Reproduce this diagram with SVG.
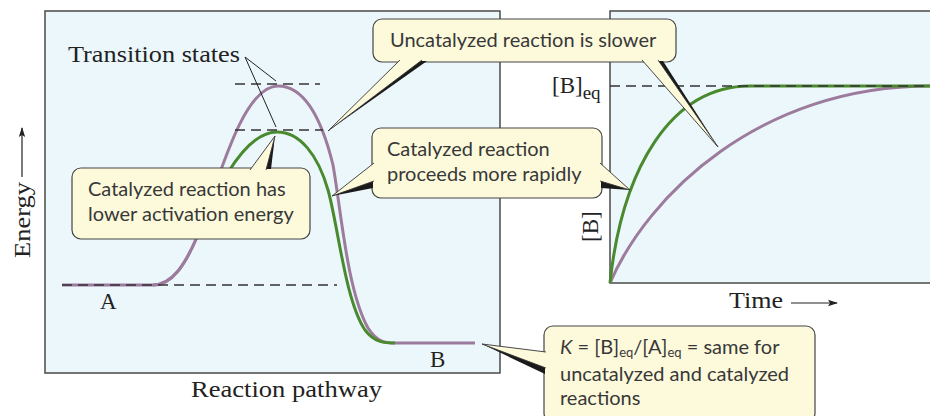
<svg xmlns="http://www.w3.org/2000/svg" width="930" height="416" viewBox="0 0 930 416">
<defs>
<style>
.panel{fill:#ecf7fc;stroke:#4a4a4a;stroke-width:1.5}
.dash{fill:none;stroke:#333;stroke-width:1.3;stroke-dasharray:10,6}
.pur{fill:none;stroke:#9c7b9c;stroke-width:3}
.grn{fill:none;stroke:#4a8a2e;stroke-width:3}
.serif{font-family:"Liberation Serif","Times New Roman",serif;font-size:23px;fill:#222}
.box{fill:#fdfadc;stroke:#444;stroke-width:1.2}
.txt{font-family:Lato,"Open Sans",sans-serif;font-size:20px;fill:#383838}
.ptr{fill:#fdfadc;stroke:#333;stroke-width:0.9;stroke-linejoin:round}
.shd{fill:#1a1a1a}
.lead{fill:none;stroke:#222;stroke-width:1}
.axis{fill:none;stroke:#222;stroke-width:1.2}
</style>
<marker id="ah" markerWidth="10" markerHeight="8" refX="9" refY="4" orient="auto" markerUnits="userSpaceOnUse">
<path d="M0,0.8 L10,4 L0,7.2 L2,4 Z" fill="#222"/>
</marker>
</defs>

<g id="energy-panel">
<rect class="panel" x="45" y="11" width="455" height="362"/>
<path class="pur" d="M62,285 H153 C172,285 185,265 197,237 C215,195 240,86 278,86 C305,86 322,120 333,165 C341,210 347,290 368,328 C378,343 386,343 395,343 H475"/>
<path class="grn" d="M197,237 C210,205 240,132 277,132 C300,132 318,155 328,190 C338,225 345,300 365,330 C375,343 385,343 395,343"/>
<path class="pur" d="M153,285 C172,285 185,265 197,237"/>
<line class="dash" x1="62" y1="285" x2="337" y2="285"/>
<line class="dash" x1="235" y1="84" x2="320" y2="84"/>
<line class="dash" x1="235" y1="130" x2="323" y2="130"/>
<text class="serif" x="100" y="309">A</text>
<text class="serif" x="430" y="367">B</text>
<text class="serif" x="191" y="397" textLength="191" lengthAdjust="spacingAndGlyphs">Reaction pathway</text>
<text class="serif" transform="translate(30,258) rotate(-90)" textLength="76" lengthAdjust="spacingAndGlyphs">Energy</text>
<line class="axis" x1="22" y1="177" x2="22" y2="128" marker-end="url(#ah)"/>
<text class="serif" x="68" y="62" textLength="172" lengthAdjust="spacingAndGlyphs">Transition states</text>
</g>

<g id="kinetics-panel">
<path class="panel" d="M932,11 H610 V283 H932"/>
<path class="pur" d="M610,283 C648,195 760,86 930,86"/>
<path class="grn" d="M610,283 C622,170 670,86 750,86 H930"/>
<line class="dash" x1="610" y1="86" x2="930" y2="86"/>
<text class="serif" x="552" y="93">[B]<tspan font-size="19" dy="6">eq</tspan></text>
<text class="serif" transform="translate(598,242) rotate(-90)">[B]</text>
<text class="serif" x="729" y="308" textLength="54" lengthAdjust="spacingAndGlyphs">Time</text>
<line class="axis" x1="791" y1="303" x2="837" y2="303" marker-end="url(#ah)"/>
</g>

<g id="connectors">
<line class="lead" x1="245" y1="57" x2="276" y2="81"/>
<line class="lead" x1="245" y1="57" x2="276" y2="127"/>
</g>

<g id="callout-uncatalyzed">
<rect class="box" x="373" y="19" width="303" height="43" rx="9"/>
<path class="shd" d="M420,61 L427,61 L328,131 Z"/>
<path class="ptr" d="M400,60 L328,131 L422,60"/>
<path class="shd" d="M656,61 L663,61 L718,147 Z"/>
<path class="ptr" d="M642,60 L718,147 L658,60"/>
<text class="txt" x="390" y="47">Uncatalyzed reaction is slower</text>
</g>

<g id="callout-rapid">
<rect class="box" x="372" y="128" width="230" height="70" rx="9"/>
<path class="shd" d="M373,180 L373,188 L332,196 Z"/>
<path class="ptr" d="M374,163 L332,196 L374,181"/>
<path class="shd" d="M601,180 L601,188 L630,190 Z"/>
<path class="ptr" d="M600,163 L630,190 L600,181"/>
<text class="txt" x="387" y="156">Catalyzed reaction</text>
<text class="txt" x="387" y="181">proceeds more rapidly</text>
</g>

<g id="callout-activation">
<rect class="box" x="72" y="168" width="238" height="71" rx="9"/>
<path class="shd" d="M264,169 L271,169 L275,136 Z"/>
<path class="ptr" d="M250,170 L275,136 L266,170"/>
<text class="txt" x="88" y="196">Catalyzed reaction has</text>
<text class="txt" x="88" y="221">lower activation energy</text>
</g>

<g id="callout-K">
<rect class="box" x="544" y="326" width="271" height="96" rx="9"/>
<path class="shd" d="M545,366 L545,374 L482,344 Z"/>
<path class="ptr" d="M546,352 L482,344 L546,368"/>
<text class="txt" x="560" y="354"><tspan font-style="italic">K</tspan> = [B]<tspan font-size="13" dy="3">eq</tspan><tspan dy="-3">/[A]</tspan><tspan font-size="13" dy="3">eq</tspan><tspan dy="-3"> = same for</tspan></text>
<text class="txt" x="560" y="381">uncatalyzed and catalyzed</text>
<text class="txt" x="560" y="405">reactions</text>
</g>
</svg>
